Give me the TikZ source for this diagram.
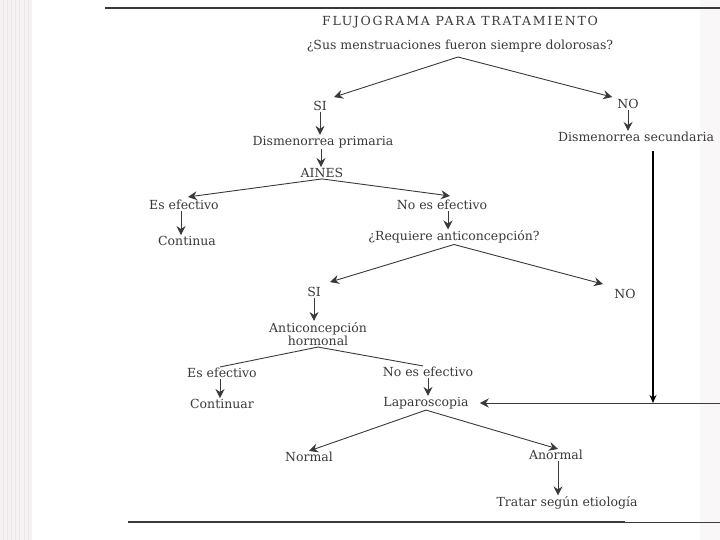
\documentclass[tikz,border=0pt]{standalone}
\usepackage{fontspec}
\setmainfont{DejaVu Serif}
\usetikzlibrary{arrows.meta}
\definecolor{ink}{HTML}{3A3A3A}
\definecolor{scan}{HTML}{F6F2F3}
\tikzset{
  lbl/.style={inner sep=1pt, text=ink, font=\fontsize{12.5}{13.5}\selectfont, align=center},
  arr/.style={draw=ink, line width=0.9pt, -{Stealth[length=9pt,width=9pt,inset=3pt]}},
  ln/.style={draw=ink, line width=0.9pt},
}
\begin{document}
\begin{tikzpicture}[x=1pt,y=-1pt]
\useasboundingbox (0,0) rectangle (720,540);
\fill[white] (0,0) rectangle (720,540);
% scan margins
\fill[scan] (0,0) rectangle (32,540);
\foreach \xx in {3,7,11,15,19,24,28}{\draw[gray!18,line width=0.4pt] (\xx,0) -- (\xx,540);}
\fill[scan!60] (700,0) rectangle (720,540);
% page rules
\draw[ink, line width=1.6pt] (105,8) -- (720,8);
\draw[ink, line width=1.6pt] (128,522) -- (625,522);
\draw[ink, line width=0.8pt] (625,522) -- (720,522);

% nodes
\node[lbl, font=\fontsize{12.5}{13.5}\selectfont\addfontfeature{LetterSpace=14}] (title) at (460,22) {FLUJOGRAMA PARA TRATAMIENTO};
\node[lbl] (q1) at (460,46) {¿Sus menstruaciones fueron siempre dolorosas?};
\coordinate (a1) at (458,57);
\node[lbl] (si1) at (320,106) {SI};
\node[lbl] (no1) at (628,104) {NO};
\node[lbl] (dp) at (323,142) {Dismenorrea primaria};
\node[lbl, anchor=west] (ds) at (557,137) {Dismenorrea secundaria};
\node[lbl] (aines) at (322,173) {AINES};
\node[lbl] (ef1) at (184,205) {Es efectivo};
\node[lbl] (nef1) at (442,205) {No es efectivo};
\node[lbl] (cont) at (187,241) {Continua};
\node[lbl] (req) at (454,237) {¿Requiere anticoncepción?};
\node[lbl] (si2) at (314,292) {SI};
\node[lbl] (no2) at (625,294) {NO};
\node[lbl] (ah) at (318,334) {Anticoncepción\\hormonal};
\node[lbl] (ef2) at (222,373) {Es efectivo};
\node[lbl] (nef2) at (428,372) {No es efectivo};
\node[lbl] (contr) at (222,404) {Continuar};
\node[lbl] (lap) at (426,403) {Laparoscopia};
\node[lbl] (norm) at (309,457) {Normal};
\node[lbl] (anorm) at (556,455) {Anormal};
\node[lbl] (trat) at (567,503) {Tratar según etiología};
\coordinate (vtop) at (653,151);
\coordinate (vbot) at (653,403);
\coordinate (redge) at (720,403);

% connectors
\draw[arr] (a1) -- ([shift={(6,-3)}]si1.north east);
\draw[arr] (a1) -- ([shift={(-4,-1)}]no1.north west);
\draw[arr] (si1.south) -- (si1.south |- dp.north);
\draw[arr] (no1.south) -- (no1.south |- ds.north);
\draw[arr] ([xshift=-2pt]dp.south) -- ([xshift=-2pt]dp.south |- aines.north);
\draw[arr] (aines.south) -- ([shift={(4,-2)}]ef1.north);
\draw[arr] (aines.south) -- ([shift={(8,-3)}]nef1.north);
\draw[arr] ([xshift=-3pt]ef1.south) -- ([xshift=-3pt]ef1.south |- cont.north);
\draw[arr] ([xshift=6pt]nef1.south) -- ([xshift=6pt]nef1.south |- req.north);
\draw[arr] (req.south) -- ([shift={(16,-4)}]si2.north);
\draw[arr] (req.south) -- ([shift={(-22,-4)}]no2.north);
\draw[arr] (si2.south) -- (si2.south |- ah.north);
\draw[ln] (ah.south) -- ([xshift=-2pt]ef2.north);
\draw[ln] (ah.south) -- ([xshift=-5pt]nef2.north);
\draw[arr] ([xshift=-2pt]ef2.south) -- ([xshift=-2pt]ef2.south |- contr.north);
\draw[arr] (nef2.south) -- (nef2.south |- lap.north);
\draw[draw=black, line width=2.2pt, -{Stealth[length=8pt,width=7pt]}] (vtop) -- (vbot);
\draw[draw=ink, line width=0.9pt, -{Stealth[length=9pt,width=9pt,inset=3pt]}] (redge) -- ([xshift=10pt]lap.east);
\draw[arr] (lap.south) -- (norm.north);
\draw[arr] (lap.south) -- ([xshift=2pt]anorm.north);
\draw[arr] ([xshift=2pt]anorm.south) -- ([xshift=2pt]anorm.south |- trat.north);
\end{tikzpicture}
\end{document}
